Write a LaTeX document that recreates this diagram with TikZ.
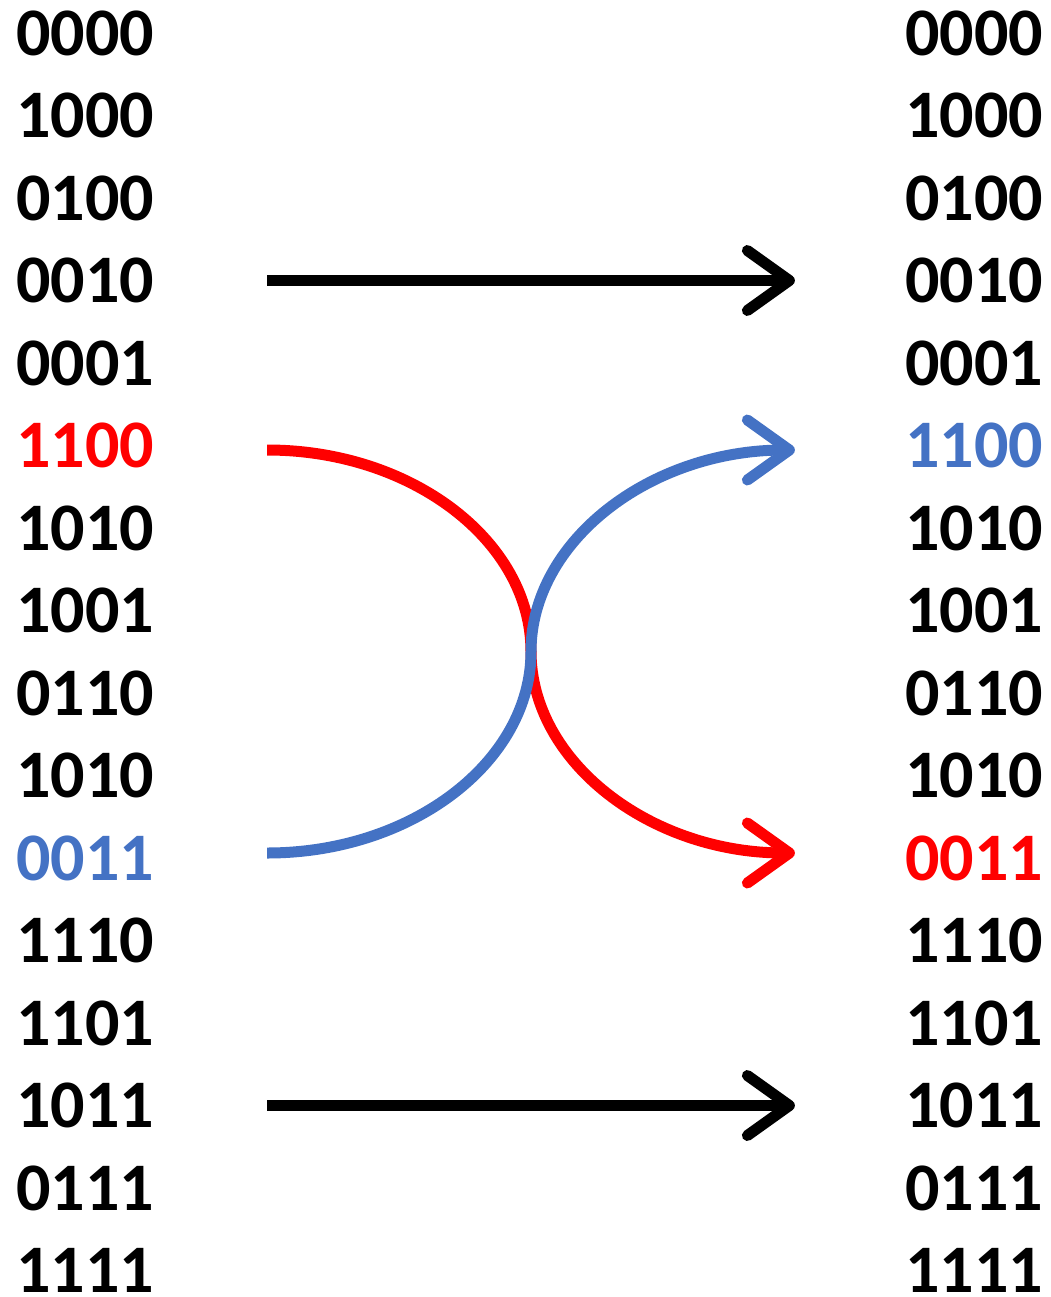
\documentclass[tikz,border=0pt]{standalone}
\usepackage{fontspec}
\setmainfont{Carlito}
\usetikzlibrary{arrows.meta,calc}
\definecolor{myred}{RGB}{255,0,0}
\definecolor{myblue}{RGB}{68,114,196}

\begin{document}
\begin{tikzpicture}[x=1pt, y=1pt, node distance=82.5pt,
  bits/.style={inner sep=0pt, font=\fontsize{68}{80}\selectfont\bfseries},
  arr/.style={line width=11pt, -{Straight Barb[length=42pt, width=60pt, round]}}]

\useasboundingbox (0,0) rectangle (1050,-1297);

% left column
\node[bits] (l1) at (85,-33) {0000};
\node[bits, below of=l1] (l2) {1000};
\node[bits, below of=l2] (l3) {0100};
\node[bits, below of=l3] (l4) {0010};
\node[bits, below of=l4] (l5) {0001};
\node[bits, below of=l5, myred] (l6) {1100};
\node[bits, below of=l6] (l7) {1010};
\node[bits, below of=l7] (l8) {1001};
\node[bits, below of=l8] (l9) {0110};
\node[bits, below of=l9] (l10) {1010};
\node[bits, below of=l10, myblue] (l11) {0011};
\node[bits, below of=l11] (l12) {1110};
\node[bits, below of=l12] (l13) {1101};
\node[bits, below of=l13] (l14) {1011};
\node[bits, below of=l14] (l15) {0111};
\node[bits, below of=l15] (l16) {1111};

% right column
\node[bits] (r1) at (974,-33) {0000};
\node[bits, below of=r1] (r2) {1000};
\node[bits, below of=r2] (r3) {0100};
\node[bits, below of=r3] (r4) {0010};
\node[bits, below of=r4] (r5) {0001};
\node[bits, below of=r5, myblue] (r6) {1100};
\node[bits, below of=r6] (r7) {1010};
\node[bits, below of=r7] (r8) {1001};
\node[bits, below of=r8] (r9) {0110};
\node[bits, below of=r9] (r10) {1010};
\node[bits, below of=r10, myred] (r11) {0011};
\node[bits, below of=r11] (r12) {1110};
\node[bits, below of=r12] (r13) {1101};
\node[bits, below of=r13] (r14) {1011};
\node[bits, below of=r14] (r15) {0111};
\node[bits, below of=r15] (r16) {1111};

% ends of the swapped rows
\coordinate (a6) at ($(l6.east)+(113,-4.5)$);
\coordinate (a11) at ($(l11.east)+(113,5)$);
\coordinate (b6) at ($(r6.west)+(-110,-4.5)$);
\coordinate (b11) at ($(r11.west)+(-110,5)$);

\draw[arr, shorten <=113pt, shorten >=110pt] (l4) -- (r4);
\draw[arr, shorten <=113pt, shorten >=110pt] (l14) -- (r14);

\draw[arr, myred] (a6) .. controls +(145,0) and +(0,110) .. ($(a6)!0.5!(b11)$)
  .. controls +(0,-110) and +(-145,0) .. (b11);
\draw[arr, myblue] (a11) .. controls +(145,0) and +(0,-110) .. ($(a11)!0.5!(b6)$)
  .. controls +(0,110) and +(-145,0) .. (b6);
\end{tikzpicture}
\end{document}
